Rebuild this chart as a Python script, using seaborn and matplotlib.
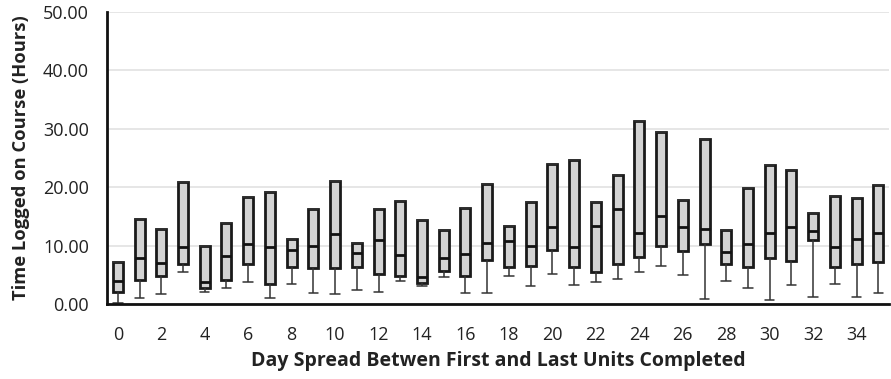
import numpy as np
import pandas as pd
import matplotlib
matplotlib.use('Agg')
import matplotlib.pyplot as plt
import seaborn as sns

# day spread categories
days = list(range(36))

# box statistics (hours)
lows = [0.2, 1.0, 1.7, 5.4, 2.0, 2.7, 3.7, 1.1, 3.4, 1.9,
        1.7, 2.4, 2.0, 4.0, 3.0, 4.6, 1.8, 1.9, 4.7, 3.1,
        5.2, 3.2, 3.8, 4.3, 5.5, 6.5, 5.0, 0.8, 3.9, 2.7,
        0.7, 3.2, 1.2, 3.5, 1.2, 1.9]
q1s = [2.0, 4.1, 4.8, 6.9, 2.8, 4.1, 6.9, 3.5, 6.4, 6.1,
       6.2, 6.3, 5.2, 4.8, 3.6, 5.7, 4.7, 7.6, 6.3, 6.5,
       9.2, 6.4, 5.4, 6.8, 8.0, 10.0, 9.1, 10.3, 6.9, 6.3,
       7.8, 7.4, 10.9, 6.4, 6.8, 7.1]
medians = [3.9, 7.8, 7.0, 9.8, 3.8, 8.2, 10.3, 9.7, 9.2, 10.0,
           11.9, 8.8, 10.9, 8.4, 4.6, 7.9, 8.5, 10.4, 10.8, 10.0,
           13.2, 9.8, 13.3, 16.3, 12.2, 15.0, 13.1, 12.8, 8.9, 10.3,
           12.1, 13.2, 12.4, 9.7, 11.2, 12.2]
tops = [7.1, 14.5, 12.9, 20.9, 10.0, 13.8, 18.3, 19.2, 11.1, 16.2,
        21.0, 10.4, 16.2, 17.6, 14.3, 12.7, 16.4, 20.6, 13.4, 17.4,
        23.9, 24.7, 17.4, 22.0, 31.3, 29.4, 17.8, 28.2, 12.7, 19.9,
        23.8, 22.9, 15.5, 18.5, 18.1, 20.3]

# five points per day give exactly min / Q1 / median / top
rows = []
for d, lo, q1, med, top in zip(days, lows, q1s, medians, tops):
    for v in [lo, q1, med, top, top]:
        rows.append({'day': d, 'hours': v})
df = pd.DataFrame(rows)

sns.set_style('white')
plt.rcParams['font.family'] = ['Open Sans', 'DejaVu Sans']

fig = plt.figure(figsize=(8.91, 3.79), dpi=100)
ax = fig.add_axes([0.120, 0.198, 0.878, 0.771])

sns.boxplot(data=df, x='day', y='hours', order=days, whis=np.inf, width=0.46,
            color='#d3d3d3', linecolor='#1a1a1a', linewidth=1.6,
            showfliers=False, ax=ax, capwidths=0.44,
            boxprops=dict(facecolor='#d3d3d3', edgecolor='#1a1a1a', linewidth=2),
            medianprops=dict(color='#111111', linewidth=2),
            whiskerprops=dict(color='#333333', linewidth=1.1),
            capprops=dict(color='#333333', linewidth=1.1))

ax.set_ylim(0, 50)
ax.set_xlim(-0.5, 35.5)
ax.set_yticks(np.arange(0, 51, 10))
ax.set_yticklabels([f'{v:.2f}' for v in range(0, 51, 10)], fontsize=13)
ax.set_xticks(range(0, 36, 2))
ax.set_xticklabels([str(d) for d in range(0, 36, 2)], fontsize=13)
ax.set_xticks(np.arange(-0.5, 36, 1), minor=True)
ax.tick_params(axis='x', which='major', length=0, pad=16)
ax.tick_params(axis='x', which='minor', length=7, width=1.2, color='#222222', direction='out')
ax.tick_params(axis='y', length=7, width=1.2, color='#222222', direction='out', pad=6)
ax.tick_params(axis='both', labelcolor='#222222')

ax.yaxis.grid(True, color='#e2e2e2', linewidth=1.2)
ax.set_axisbelow(True)
for s in ['top', 'right']:
    ax.spines[s].set_visible(False)
for s in ['left', 'bottom']:
    ax.spines[s].set_color('#111111')
    ax.spines[s].set_linewidth(2)

ax.set_xlabel('Day Spread Betwen First and Last Units Completed', fontsize=14,
              fontweight='bold', color='#222222', labelpad=5)
ax.set_ylabel('Time Logged on Course (Hours)', fontsize=13.2, fontweight='bold',
              color='#222222', labelpad=9)

fig.savefig('out.png', dpi=100)
